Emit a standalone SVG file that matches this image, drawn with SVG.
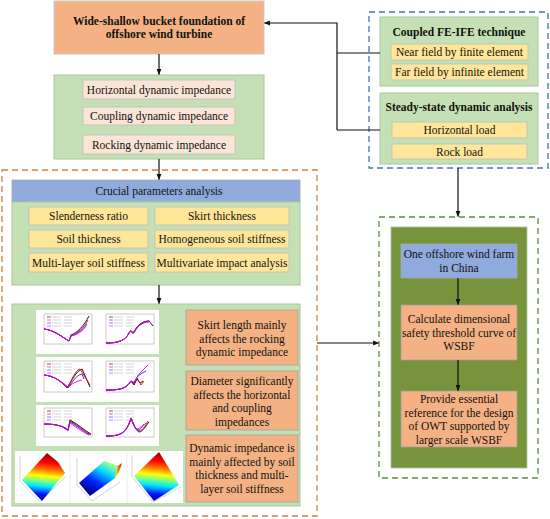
<svg xmlns="http://www.w3.org/2000/svg" width="550" height="519" viewBox="0 0 550 519">
<defs>
<style>
.t{font-family:"Liberation Serif","Times New Roman",serif;font-size:11.5px;fill:#111;text-anchor:middle}
.b{font-weight:bold}
.or{fill:#F4B183;stroke:#C9C9C9;stroke-width:1}
.gr{fill:#C5E0B4;stroke:#A9C99A;stroke-width:1}
.pk{fill:#FBE5D6;stroke:#BFBFBF;stroke-width:0.8}
.ye{fill:#FFE699;stroke:#BFBFBF;stroke-width:0.8}
.bl{fill:#8FAADC;stroke:#A9A9A9;stroke-width:0.8}
.ob{fill:#F4B183;stroke:#A0A0A0;stroke-width:0.8}
.ln{fill:none;stroke:#111;stroke-width:1.2}
.cw{fill:#fff}
.fr{fill:none;stroke:#999;stroke-width:0.5}
.cv{fill:none;stroke-width:0.9}
</style>
<marker id="ah" viewBox="0 0 10 10" refX="9" refY="5" markerWidth="5" markerHeight="5" orient="auto">
<path d="M0,1 L10,5 L0,9 z" fill="#111"/>
</marker>
<linearGradient id="jet1" gradientUnits="userSpaceOnUse" x1="42" y1="501" x2="47" y2="453">
<stop offset="0" stop-color="#00008f"/><stop offset="0.14" stop-color="#0010ff"/><stop offset="0.3" stop-color="#00e8ff"/><stop offset="0.42" stop-color="#80ff80"/><stop offset="0.52" stop-color="#ffff00"/><stop offset="0.66" stop-color="#ff7000"/><stop offset="0.8" stop-color="#ff0000"/><stop offset="1" stop-color="#900000"/>
</linearGradient>
<linearGradient id="jet2" gradientUnits="userSpaceOnUse" x1="92" y1="495" x2="112" y2="458">
<stop offset="0" stop-color="#00008f"/><stop offset="0.3" stop-color="#0020ff"/><stop offset="0.62" stop-color="#00d8ff"/><stop offset="0.82" stop-color="#80ffa0"/><stop offset="1" stop-color="#e8ff30"/>
</linearGradient>
<linearGradient id="jet3" gradientUnits="userSpaceOnUse" x1="154" y1="501" x2="159" y2="452">
<stop offset="0" stop-color="#00008f"/><stop offset="0.14" stop-color="#0010ff"/><stop offset="0.32" stop-color="#00e8ff"/><stop offset="0.44" stop-color="#80ff80"/><stop offset="0.54" stop-color="#ffff00"/><stop offset="0.68" stop-color="#ff7000"/><stop offset="0.82" stop-color="#ff0000"/><stop offset="1" stop-color="#900000"/>
</linearGradient>
<linearGradient id="tip" x1="0" y1="1" x2="1" y2="0">
<stop offset="0" stop-color="#ffff00"/><stop offset="0.5" stop-color="#ff8000"/><stop offset="1" stop-color="#d00000"/>
</linearGradient>
</defs>
<rect width="550" height="519" fill="#fff"/>

<!-- containers -->
<rect id="dashOrange" x="2" y="170" width="315" height="346" fill="none" stroke="#E07B39" stroke-width="1.3" stroke-dasharray="6,4"/>
<rect id="dashBlue" x="369" y="12" width="179" height="156" fill="none" stroke="#4472C4" stroke-width="1.3" stroke-dasharray="6,4"/>
<rect id="dashGreen" x="379" y="217" width="159" height="261" fill="none" stroke="#5A8F3C" stroke-width="1.3" stroke-dasharray="6,4"/>

<g id="n-top">
<rect class="or" x="54" y="1" width="210" height="53"/>
<text class="t b" x="159" y="25">Wide-shallow bucket foundation of</text>
<text class="t b" x="159" y="38">offshore wind turbine</text>
</g>

<g id="n-impedance">
<rect class="gr" x="54" y="75" width="210" height="84"/>
<rect class="pk" x="83" y="80" width="152" height="19"/>
<text class="t" x="159" y="93.5">Horizontal dynamic impedance</text>
<rect class="pk" x="83" y="107" width="152" height="18"/>
<text class="t" x="159" y="120">Coupling dynamic impedance</text>
<rect class="pk" x="83" y="135" width="152" height="19"/>
<text class="t" x="159" y="148.5">Rocking dynamic impedance</text>
</g>

<g id="n-params">
<rect class="bl" x="12" y="180" width="288" height="22"/>
<text class="t" x="159" y="195">Crucial parameters analysis</text>
<rect class="gr" x="12" y="202" width="288" height="83"/>
<rect class="ye" x="29" y="207" width="119" height="18"/>
<text class="t" x="88.5" y="220">Slenderness ratio</text>
<rect class="ye" x="155" y="207" width="134" height="18"/>
<text class="t" x="222" y="220">Skirt thickness</text>
<rect class="ye" x="29" y="230" width="119" height="18"/>
<text class="t" x="88.5" y="243">Soil thickness</text>
<rect class="ye" x="155" y="230" width="134" height="18"/>
<text class="t" x="222" y="243">Homogeneous soil stiffness</text>
<rect class="ye" x="29" y="253" width="119" height="19"/>
<text class="t" x="88.5" y="266.5">Multi-layer soil stiffness</text>
<rect class="ye" x="155" y="253" width="134" height="19"/>
<text class="t" x="222" y="266.5">Multivariate impact analysis</text>
</g>

<g id="n-results">
<rect class="gr" x="12" y="304" width="288" height="202"/>
<!-- charts -->
<g id="charts">
<rect class="cw" x="36" y="310" width="123" height="44"/>
<rect class="cw" x="36" y="357" width="123" height="45"/>
<rect class="cw" x="36" y="405" width="123" height="41"/>
<!-- chart A -->
<g transform="translate(44,314)">
<rect class="fr" x="0" y="0" width="48" height="30"/>
<g stroke-width="0.6"><line x1="3" y1="3" x2="7" y2="3" stroke="#000"/><line x1="3" y1="6" x2="7" y2="6" stroke="#e00"/><line x1="3" y1="9" x2="7" y2="9" stroke="#22f"/><line x1="3" y1="12" x2="7" y2="12" stroke="#e0e"/>
<g stroke="#bbb"><line x1="8" y1="3" x2="17" y2="3"/><line x1="8" y1="6" x2="17" y2="6"/><line x1="8" y1="9" x2="17" y2="9"/><line x1="8" y1="12" x2="17" y2="12"/><line x1="20" y1="3" x2="28" y2="3"/><line x1="20" y1="6" x2="28" y2="6"/><line x1="20" y1="9" x2="28" y2="9"/><line x1="20" y1="12" x2="28" y2="12"/></g></g>
<path class="cv" stroke="#000" d="M0,15 C10,16 18,23 25,27 L27,21 C33,19 40,12 45,2"/>
<path class="cv" stroke="#e00" d="M0,15 C10,16 18,23 25,27 L27,22 C33,20 40,14 44,6"/>
<path class="cv" stroke="#22f" d="M0,15 C10,16 18,23 25,27 L27,22 C33,20 39,16 43,10"/>
<path class="cv" stroke="#e0e" d="M0,15 C10,16 18,23 25,27 L27,22 C33,21 39,17 42,12"/>
</g>
<!-- chart B -->
<g transform="translate(106,314)">
<rect class="fr" x="0" y="0" width="48" height="30"/>
<g stroke-width="0.6"><line x1="3" y1="3" x2="7" y2="3" stroke="#000"/><line x1="3" y1="6" x2="7" y2="6" stroke="#e00"/><line x1="3" y1="9" x2="7" y2="9" stroke="#22f"/><line x1="3" y1="12" x2="7" y2="12" stroke="#e0e"/>
<g stroke="#bbb"><line x1="8" y1="3" x2="17" y2="3"/><line x1="8" y1="6" x2="17" y2="6"/><line x1="8" y1="9" x2="17" y2="9"/><line x1="8" y1="12" x2="17" y2="12"/><line x1="20" y1="3" x2="28" y2="3"/><line x1="20" y1="6" x2="28" y2="6"/><line x1="20" y1="9" x2="28" y2="9"/><line x1="20" y1="12" x2="28" y2="12"/></g></g>
<path class="cv" stroke="#000" d="M0,29 C12,29 19,27 23,19 C25,14 26,20 28,18 C32,10 37,7 43,7 L47,12"/>
<path class="cv" stroke="#e00" d="M0,29 C12,29 19,27 23,19 C25,14 26,20 28,18 C32,10 37,8 43,7"/>
<path class="cv" stroke="#22f" d="M0,29 C12,29 19,27 23,19 C25,15 26,21 28,18 C32,11 37,8 43,8"/>
<path class="cv" stroke="#e0e" d="M0,29 C12,29 19,27 23,19 C25,15 26,21 28,19 C32,11 37,8 44,7"/>
</g>
<!-- chart C -->
<g transform="translate(44,361)">
<rect class="fr" x="0" y="0" width="48" height="31"/>
<g stroke-width="0.6"><line x1="3" y1="3" x2="7" y2="3" stroke="#000"/><line x1="3" y1="6" x2="7" y2="6" stroke="#e00"/><line x1="3" y1="9" x2="7" y2="9" stroke="#22f"/><line x1="3" y1="12" x2="7" y2="12" stroke="#e0e"/>
<g stroke="#bbb"><line x1="8" y1="3" x2="17" y2="3"/><line x1="8" y1="6" x2="17" y2="6"/><line x1="8" y1="9" x2="17" y2="9"/><line x1="8" y1="12" x2="17" y2="12"/><line x1="20" y1="3" x2="28" y2="3"/><line x1="20" y1="6" x2="28" y2="6"/><line x1="20" y1="9" x2="28" y2="9"/><line x1="20" y1="12" x2="28" y2="12"/></g></g>
<path class="cv" stroke="#000" d="M0,14 C10,15 17,20 23,27 C28,20 32,10 38,8 L46,26"/>
<path class="cv" stroke="#e00" d="M0,14 C10,15 17,20 23,27 C28,19 31,9 36,8 L46,24"/>
<path class="cv" stroke="#22f" d="M0,14 C10,15 17,20 24,27 C28,22 32,14 38,13 L40,18"/>
<path class="cv" stroke="#e0e" d="M0,14 C10,15 17,20 24,26 C28,23 32,20 38,19"/>
</g>
<!-- chart D -->
<g transform="translate(106,361)">
<rect class="fr" x="0" y="0" width="48" height="31"/>
<g stroke-width="0.6"><line x1="3" y1="3" x2="7" y2="3" stroke="#000"/><line x1="3" y1="6" x2="7" y2="6" stroke="#e00"/><line x1="3" y1="9" x2="7" y2="9" stroke="#22f"/><line x1="3" y1="12" x2="7" y2="12" stroke="#e0e"/>
<g stroke="#bbb"><line x1="8" y1="3" x2="17" y2="3"/><line x1="8" y1="6" x2="17" y2="6"/><line x1="8" y1="9" x2="17" y2="9"/><line x1="8" y1="12" x2="17" y2="12"/><line x1="20" y1="3" x2="28" y2="3"/><line x1="20" y1="6" x2="28" y2="6"/><line x1="20" y1="9" x2="28" y2="9"/><line x1="20" y1="12" x2="28" y2="12"/></g></g>
<path class="cv" stroke="#000" d="M0,29 C14,29 20,28 25,20 L28,24 L31,18 L34,22 L37,20"/>
<path class="cv" stroke="#e00" d="M0,29 C14,29 20,28 25,20 L28,23 L31,17 L35,24 L38,20"/>
<path class="cv" stroke="#22f" d="M0,29 C14,29 20,28 25,20 L28,22 L32,15 L36,12 L40,10"/>
<path class="cv" stroke="#e0e" d="M0,29 C14,29 20,28 25,20 L28,21 L33,13 L38,8 L42,4"/>
</g>
<!-- chart E -->
<g transform="translate(44,408)">
<rect class="fr" x="0" y="0" width="48" height="29"/>
<g stroke-width="0.6"><line x1="3" y1="3" x2="7" y2="3" stroke="#000"/><line x1="3" y1="6" x2="7" y2="6" stroke="#e00"/><line x1="3" y1="9" x2="7" y2="9" stroke="#22f"/><line x1="3" y1="12" x2="7" y2="12" stroke="#e0e"/>
<g stroke="#bbb"><line x1="8" y1="3" x2="17" y2="3"/><line x1="8" y1="6" x2="17" y2="6"/><line x1="8" y1="9" x2="17" y2="9"/><line x1="8" y1="12" x2="17" y2="12"/><line x1="20" y1="3" x2="28" y2="3"/><line x1="20" y1="6" x2="28" y2="6"/><line x1="20" y1="9" x2="28" y2="9"/><line x1="20" y1="12" x2="28" y2="12"/></g></g>
<path class="cv" stroke="#000" d="M0,16 C12,16 19,18 24,22 L26,12 C32,15 40,22 47,26"/>
<path class="cv" stroke="#e00" d="M0,16 C12,16 19,18 24,22 L26,13 C32,16 40,23 47,27"/>
<path class="cv" stroke="#22f" d="M0,16 C12,16 19,18 24,22 L26,14 C32,17 40,24 46,27"/>
<path class="cv" stroke="#e0e" d="M0,16 C12,16 19,18 24,23 L26,15 C32,19 40,25 45,27"/>
</g>
<!-- chart F -->
<g transform="translate(106,408)">
<rect class="fr" x="0" y="0" width="48" height="29"/>
<g stroke-width="0.6"><line x1="3" y1="3" x2="7" y2="3" stroke="#000"/><line x1="3" y1="6" x2="7" y2="6" stroke="#e00"/><line x1="3" y1="9" x2="7" y2="9" stroke="#22f"/><line x1="3" y1="12" x2="7" y2="12" stroke="#e0e"/>
<g stroke="#bbb"><line x1="8" y1="3" x2="17" y2="3"/><line x1="8" y1="6" x2="17" y2="6"/><line x1="8" y1="9" x2="17" y2="9"/><line x1="8" y1="12" x2="17" y2="12"/><line x1="20" y1="3" x2="28" y2="3"/><line x1="20" y1="6" x2="28" y2="6"/><line x1="20" y1="9" x2="28" y2="9"/><line x1="20" y1="12" x2="28" y2="12"/></g></g>
<path class="cv" stroke="#000" d="M0,28 C14,28 20,26 25,10 C27,14 29,22 33,24 C37,24 41,16 43,14"/>
<path class="cv" stroke="#e00" d="M0,28 C14,28 20,26 25,10 C27,14 29,22 33,23 C37,23 40,16 42,13"/>
<path class="cv" stroke="#22f" d="M0,28 C14,28 20,26 25,11 C27,15 29,22 32,22 C35,22 38,16 40,15"/>
<path class="cv" stroke="#e0e" d="M0,28 C14,28 20,26 25,11 C27,15 29,21 31,21 C34,21 36,17 38,16"/>
</g>
</g>
<!-- 3D surfaces -->
<g id="surfaces">
<rect class="cw" x="15" y="451" width="168" height="52"/>
<g stroke="#ddd" stroke-width="0.6" fill="none">
<line x1="70" y1="451" x2="70" y2="503"/>
<line x1="127" y1="451" x2="127" y2="503"/>
</g>
<g stroke="#aaa" stroke-width="0.5" fill="none">
<path d="M20,456 L20,481 L40,502 L66,476"/>
<path d="M77,458 L77,485 L92,501 L120,482"/>
<path d="M132,455 L132,477 L153,502 L181,487"/>
</g>
<polygon points="22,480 47,453 58,462 65,473 42,501" fill="url(#jet1)"/>
<polygon points="79,483 104,461 118,466 115,478 90,496" fill="url(#jet2)"/>
<polygon points="115,478 118,466 122,463 119,472" fill="url(#tip)"/>
<polygon points="134,476 159,452 170,470 179,485 154,501" fill="url(#jet3)"/>
</g>
<g id="n-skirt">
<rect class="ob" x="186" y="310" width="112" height="55"/>
<text class="t" x="242" y="329">Skirt length mainly</text>
<text class="t" x="242" y="342.5">affects the rocking</text>
<text class="t" x="242" y="356">dynamic impedance</text>
</g>
<g id="n-diameter">
<rect class="ob" x="186" y="371" width="112" height="59"/>
<text class="t" x="242" y="385">Diameter significantly</text>
<text class="t" x="242" y="398.5">affects the horizontal</text>
<text class="t" x="242" y="412">and coupling</text>
<text class="t" x="242" y="425.5">impedances</text>
</g>
<g id="n-soil">
<rect class="ob" x="186" y="435" width="112" height="67"/>
<text class="t" x="242" y="452">Dynamic impedance is</text>
<text class="t" x="242" y="465.5">mainly affected by  soil</text>
<text class="t" x="242" y="479">thickness and multi-</text>
<text class="t" x="242" y="492.5">layer soil stiffness</text>
</g>
</g>

<g id="n-fe">
<rect class="gr" x="380" y="17" width="158" height="69"/>
<text class="t b" x="459" y="36">Coupled FE-IFE technique</text>
<rect class="ye" x="391" y="44" width="137" height="16"/>
<text class="t" x="459.5" y="56">Near field by finite element</text>
<rect class="ye" x="391" y="64" width="137" height="16"/>
<text class="t" x="459.5" y="76">Far field by infinite element</text>
</g>

<g id="n-steady">
<rect class="gr" x="380" y="93" width="158" height="71"/>
<text class="t b" x="459" y="111">Steady-state dynamic analysis</text>
<rect class="ye" x="392" y="122" width="135" height="16"/>
<text class="t" x="459.5" y="134">Horizontal load</text>
<rect class="ye" x="392" y="144" width="135" height="15"/>
<text class="t" x="459.5" y="155.5">Rock load</text>
</g>

<g id="n-case">
<rect x="391" y="227" width="136" height="241" fill="#77933C" stroke="#A9C99A" stroke-width="0.8"/>
<rect class="bl" x="401" y="244" width="116" height="34"/>
<text class="t" x="459" y="258">One offshore wind farm</text>
<text class="t" x="459" y="272">in China</text>
<rect class="ob" x="401" y="305" width="116" height="55"/>
<text class="t" x="459" y="323">Calculate dimensional</text>
<text class="t" x="459" y="336.5">safety threshold curve of</text>
<text class="t" x="459" y="350">WSBF</text>
<rect class="ob" x="401" y="391" width="116" height="56"/>
<text class="t" x="459" y="403">Provide essential</text>
<text class="t" x="459" y="416.5">reference for the design</text>
<text class="t" x="459" y="430">of OWT supported by</text>
<text class="t" x="459" y="443.5">larger scale WSBF</text>
</g>

<g id="connectors">
<line class="ln" x1="159" y1="54" x2="159" y2="74.5" marker-end="url(#ah)"/>
<line class="ln" x1="159" y1="159" x2="159" y2="179.5" marker-end="url(#ah)"/>
<line class="ln" x1="159" y1="285" x2="159" y2="303.5" marker-end="url(#ah)"/>
<polyline class="ln" points="337,130 337,23 264.5,23" marker-end="url(#ah)"/>
<line class="ln" x1="337" y1="53" x2="380" y2="53"/>
<line class="ln" x1="337" y1="130" x2="380" y2="130"/>
<line class="ln" x1="458" y1="168" x2="458" y2="216.5" marker-end="url(#ah)"/>
<line class="ln" x1="317" y1="343" x2="378.5" y2="343" marker-end="url(#ah)"/>
<line class="ln" x1="458" y1="278" x2="458" y2="304.5" marker-end="url(#ah)"/>
<line class="ln" x1="458" y1="360" x2="458" y2="390.5" marker-end="url(#ah)"/>
</g>
</svg>
